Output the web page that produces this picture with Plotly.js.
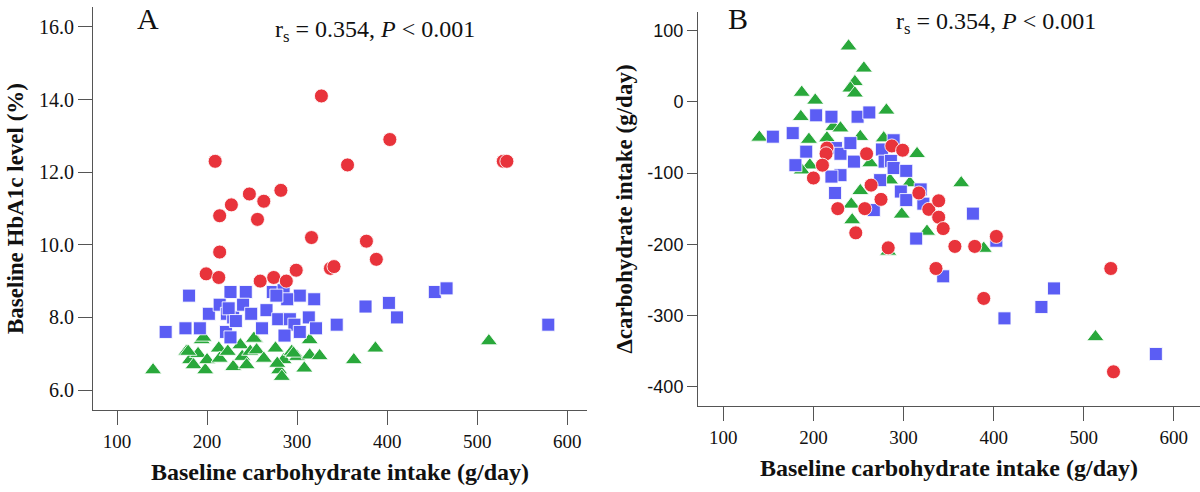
<!DOCTYPE html>
<html>
<head>
<meta charset="utf-8">
<script src="https://cdn.plot.ly/plotly-3.0.1.min.js"></script>
<style>
  html, body { margin: 0; padding: 0; background: #fff; }
  #chart { width: 1200px; height: 492px; }
</style>
</head>
<body>
<div id="chart"></div>
<script>
// Panel A: baseline carbohydrate intake vs baseline HbA1c
const redA_x = [327, 403, 209, 356, 529, 533, 247, 263, 282, 227, 214, 256, 316, 377, 214, 388, 337, 341, 199, 213, 259, 274, 288, 299];
const redA_y = [14.1, 12.9, 12.3, 12.2, 12.3, 12.3, 11.4, 11.2, 11.5, 11.1, 10.8, 10.7, 10.2, 10.1, 9.8, 9.6, 9.35, 9.4, 9.2, 9.1, 9.0, 9.1, 9.0, 9.3];

const blueA_x = [180, 154, 176, 192, 226, 243, 273, 285, 303, 319, 202, 214, 222, 229, 240, 249, 266, 279, 289, 292, 297, 313, 321, 303, 261, 221, 286, 226, 344, 376, 402, 411, 453, 466, 579, 277, 224, 232];
const blueA_y = [8.6, 7.6, 7.7, 7.7, 8.7, 8.7, 8.7, 8.75, 8.6, 8.5, 8.1, 8.35, 8.1, 8.0, 8.35, 8.1, 8.2, 7.95, 8.5, 7.95, 7.8, 8.0, 7.7, 7.6, 7.7, 7.6, 7.5, 7.45, 7.8, 8.3, 8.4, 8.0, 8.7, 8.8, 7.8, 8.6, 8.25, 7.9];

const greenA_x = [140, 177, 181, 185, 194, 190, 198, 200, 213, 214, 223, 229, 237, 239, 248, 253, 255, 263, 244, 276, 285, 280, 283, 294, 300, 308, 314, 314, 325, 363, 387, 513, 196, 252, 179, 278, 296];
const greenA_y = [6.55, 7.06, 6.83, 6.69, 7.38, 7.0, 6.55, 6.83, 7.15, 6.87, 7.06, 6.64, 7.24, 6.92, 7.06, 7.42, 7.1, 6.87, 6.69, 7.15, 6.83, 6.55, 6.37, 7.06, 6.92, 6.6, 7.38, 6.96, 6.94, 6.83, 7.15, 7.35, 7.45, 7.42, 7.06, 6.73, 7.01];

// Panel B: baseline carbohydrate intake vs change in carbohydrate intake
const redB_x = [215, 214, 210, 200, 259, 287, 299, 264, 275, 317, 227, 257, 328, 339, 339, 344, 247, 283, 357, 379, 403, 336, 389, 530, 533];
const redB_y = [-65, -73, -89, -107, -73, -62, -68, -117, -137, -128, -150, -150, -151, -139, -162, -178, -184, -205, -203, -203, -189, -234, -276, -234, -379];

const blueB_x = [155, 177, 203, 220, 249, 262, 192, 180, 225, 230, 241, 245, 230, 220, 224, 276, 289, 279, 286, 289, 274, 303, 297, 303, 319, 322, 267, 314, 377, 344, 403, 412, 453, 467, 580];
const blueB_y = [-49, -44, -19, -21, -21, -15, -70, -89, -65, -73, -58, -84, -103, -105, -128, -67, -54, -84, -83, -93, -110, -97, -126, -138, -123, -143, -152, -192, -157, -245, -195, -304, -288, -262, -354];

const greenB_x = [239, 256, 246, 241, 246, 187, 202, 281, 186, 140, 215, 222, 230, 252, 278, 315, 263, 196, 187, 252, 242, 243, 298, 364, 326, 389, 283, 513, 285, 307, 195];
const greenB_y = [78, 47, 28, 19, 12, 13, 2, -12, -21, -50, -51, -35, -37, -49, -51, -73, -86, -89, -96, -125, -144, -166, -158, -114, -182, -206, -210, -330, -110, -114, -53];

const xTicks = [100, 200, 300, 400, 500, 600];
const yTicksA = [6, 8, 10, 12, 14, 16];
const yTicksB = [100, 0, -100, -200, -300, -400];
const yLabelsB = ['100', '0', '-100', '-200', '-300', '-400'];

const RED = '#e8333b';
const BLUE = '#5b5df4';
const GREEN = '#29a83b';
const SERIF = 'Liberation Serif, Times New Roman, serif';
const SANS = 'Liberation Sans, Arial, sans-serif';

function pts(x, y, color, symbol, size, xa, ya) {
    return {
        x: x, y: y,
        xaxis: xa, yaxis: ya,
        type: 'scatter',
        mode: 'markers',
        showlegend: false,
        hoverinfo: 'x+y',
        marker: {
            color: color,
            symbol: symbol,
            size: size,
            line: { color: 'rgba(255,255,255,0.85)', width: 1 }
        }
    };
}

const traces = [
    pts(greenA_x, greenA_y, GREEN, 'triangle-up', 15, 'x', 'y'),
    pts(blueA_x, blueA_y, BLUE, 'square', 13, 'x', 'y'),
    pts(redA_x, redA_y, RED, 'circle', 14, 'x', 'y'),
    pts(greenB_x, greenB_y, GREEN, 'triangle-up', 15, 'x2', 'y2'),
    pts(blueB_x, blueB_y, BLUE, 'square', 13, 'x2', 'y2'),
    pts(redB_x, redB_y, RED, 'circle', 14, 'x2', 'y2')
];

const axisBase = {
    showline: true,
    linecolor: '#555',
    linewidth: 1,
    ticks: 'outside',
    tickcolor: '#555',
    tickwidth: 1,
    showgrid: false,
    zeroline: false,
    automargin: false
};

const xTitleFont = { family: SERIF, size: 24, color: '#111' };

// small helper for the panel letters and the correlation text
function note(text, px, py, size) {
    return {
        text: text, xref: 'paper', yref: 'paper',
        x: px / 1200, y: 1 - py / 492,
        xanchor: 'center', yanchor: 'middle',
        showarrow: false,
        font: { family: SERIF, size: size, color: '#111' }
    };
}

const layout = {
    width: 1200,
    height: 492,
    margin: { l: 0, r: 0, t: 0, b: 0 },
    paper_bgcolor: '#ffffff',
    plot_bgcolor: '#ffffff',
    showlegend: false,

    xaxis: Object.assign({}, axisBase, {
        domain: [93 / 1200, 587 / 1200],
        range: [73.3, 622],
        anchor: 'y',
        tickvals: xTicks,
        ticklen: 14,
        tickfont: { family: SERIF, size: 19, color: '#111' },
        title: { text: '<b>Baseline carbohydrate intake (g/day)</b>', font: xTitleFont, standoff: 12 }
    }),
    yaxis: Object.assign({}, axisBase, {
        domain: [82 / 492, 485 / 492],
        range: [5.45, 16.55],
        anchor: 'x',
        tickvals: yTicksA,
        tickformat: '.1f',
        ticklen: 14,
        tickfont: { family: SERIF, size: 20, color: '#111' },
        title: { text: '<b>Baseline HbA1c level (%)</b>', font: { family: SERIF, size: 23, color: '#111' }, standoff: 8 }
    }),
    xaxis2: Object.assign({}, axisBase, {
        domain: [698 / 1200, 1],
        range: [71.9, 629],
        anchor: 'y2',
        tickvals: xTicks,
        ticklen: 14,
        tickfont: { family: SERIF, size: 19, color: '#111' },
        title: { text: '<b>Baseline carbohydrate intake (g/day)</b>', font: xTitleFont, standoff: 12 }
    }),
    yaxis2: Object.assign({}, axisBase, {
        domain: [86 / 492, 480 / 492],
        range: [-427, 126],
        anchor: 'x2',
        tickvals: yTicksB,
        ticktext: yLabelsB,
        ticklen: 10,
        tickfont: { family: SANS, size: 18, color: '#111' },
        title: { text: '<b>\u0394carbohydrate intake (g/day)</b>', font: { family: SERIF, size: 23, color: '#111' }, standoff: 8 }
    }),

    annotations: [
        note('A', 148, 19, 30),
        note('r<sub>s</sub> = 0.354, <i>P</i> &lt; 0.001', 375, 31, 24),
        note('B', 738, 19, 30),
        note('r<sub>s</sub> = 0.354, <i>P</i> &lt; 0.001', 996, 23, 24)
    ]
};

const config = { responsive: false, displayModeBar: false, staticPlot: true };

Plotly.newPlot('chart', traces, layout, config);
</script>
</body>
</html>
